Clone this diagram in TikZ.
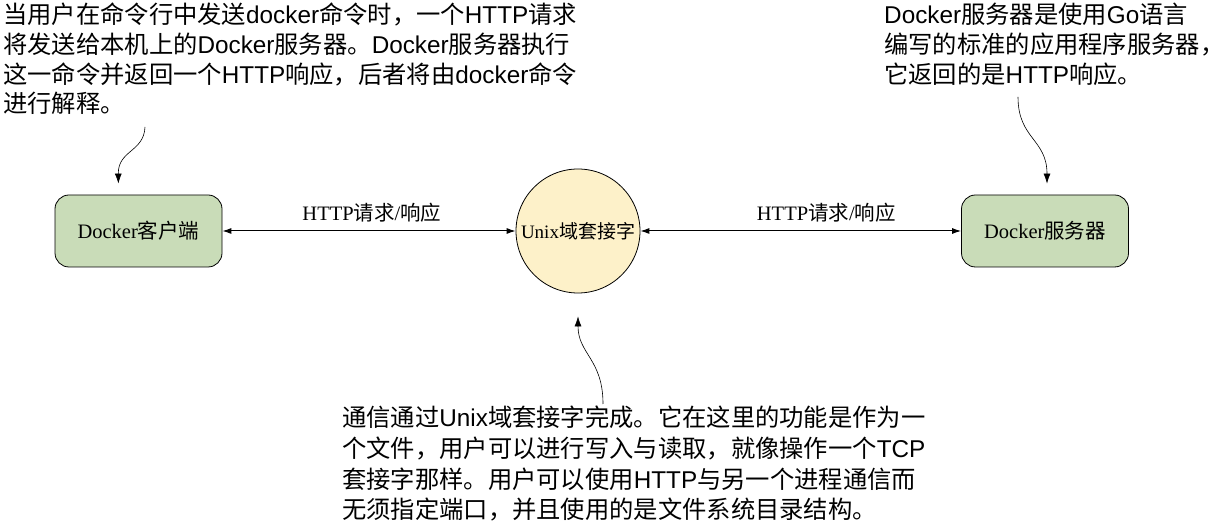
\documentclass[tikz,border=0pt]{standalone}
\usepackage{fontspec}
\setmainfont{Liberation Serif}
\newfontfamily\cjk{Noto Sans CJK SC}
\newfontfamily\lat{Liberation Sans}
\usetikzlibrary{arrows.meta, positioning, calc}
\definecolor{boxgreen}{HTML}{C9DCB8}
\definecolor{sockyellow}{HTML}{FDF1C9}
\tikzset{
  procbox/.style={draw, fill=boxgreen, rounded corners=14pt, minimum width=167pt,
    minimum height=72pt, line width=0.8pt, font=\fontsize{20.5}{24}\selectfont},
  sockcircle/.style={draw, circle, fill=sockyellow, minimum size=124pt, inner sep=0pt,
    line width=0.8pt, font=\fontsize{19}{23}\selectfont},
  note/.style={align=left, inner sep=0pt, anchor=north west,
    font=\cjk\fontsize{24.3}{29.7}\selectfont},
  link/.style={{Latex[length=9pt,width=6pt]}-{Latex[length=9pt,width=6pt]}, line width=1pt},
  linklabel/.style={font=\fontsize{20.5}{24}\selectfont, above=5pt},
  callout/.style={-{Latex[length=10pt,width=7pt]}, line width=0.6pt}
}
\begin{document}
\begin{tikzpicture}[x=1pt, y=1pt]
\useasboundingbox (0,0) rectangle (1225,524);

% Client, socket and server
\node[procbox] (client) at (138.5,293) {Docker{\cjk 客户端}};
\node[sockcircle] (sock) at (578,293) {Unix{\cjk 域套接字}};
\node[procbox] (server) at (1045,293) {Docker{\cjk 服务器}};

\draw[link] (client) -- node[linklabel, pos=0.51] {HTTP{\cjk 请求}/{\cjk 响应}} (sock);
\draw[link] (sock) -- node[linklabel, pos=0.58] {HTTP{\cjk 请求}/{\cjk 响应}} (server);

% Notes
\node[note] (clientnote) at (3,521) {当用户在命令行中发送{\lat docker}命令时，一个{\lat HTTP}请求\\%
将发送给本机上的{\lat Docker}服务器。{\lat Docker}服务器执行\\%
这一命令并返回一个{\lat HTTP}响应，后者将由{\lat docker}命令\\%
进行解释。};
\node[note] (servernote) at (884,521) {{\lat Docker}服务器是使用{\lat Go}语言\\%
编写的标准的应用程序服务器，\\%
它返回的是{\lat HTTP}响应。};
\node[note, font=\cjk\fontsize{24.3}{30.6}\selectfont] (socknote) at (342,118)
  {通信通过{\lat Unix}域套接字完成。它在这里的功能是作为一\\%
个文件，用户可以进行写入与读取，就像操作一个{\lat TCP}\\%
套接字那样。用户可以使用{\lat HTTP}与另一个进程通信而\\%
无须指定端口，并且使用的是文件系统目录结构。};

% Callout arrows
\coordinate (clientfrom) at (145,397);
\coordinate (serverfrom) at (1018,427);
\coordinate (sockfrom) at (603,120);
\draw[callout, shorten >=11pt] (clientfrom) .. controls (144,372) and (118,374) .. ([xshift=-20pt]client.north);
\draw[callout, shorten >=11pt] (serverfrom) .. controls (1018,385) and (1047,385) .. ([xshift=2pt]server.north);
\draw[callout, shorten >=23pt] (sockfrom) .. controls (603,165) and (578,170) .. (sock.south);
\end{tikzpicture}
\end{document}
